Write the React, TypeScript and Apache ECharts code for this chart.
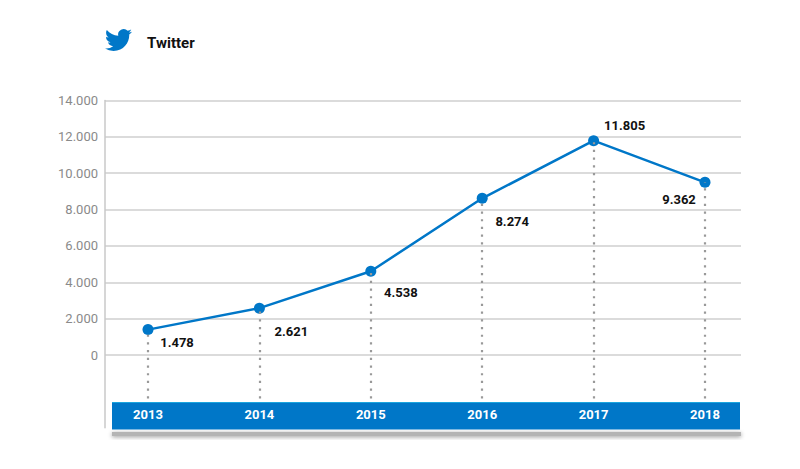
import React, { useEffect, useRef } from "react";
import * as echarts from "echarts";

const categories = ["2013", "2014", "2015", "2016", "2017", "2018"];
// Heights of the plotted markers
const pointValues = [1400, 2580, 4610, 8620, 11790, 9500];
// Numbers printed next to the markers
const valueLabels = ["1.478", "2.621", "4.538", "8.274", "11.805", "9.362"];
const labelOffsets = [[29, 12.5], [32, 23], [30, 21], [30, 23], [31, -15.5], [-26, 17]];

const dropEnd = -2387;
const BLUE = "#0077c8";
const BIRD =
  "M23.953 4.57a10 10 0 0 1-2.825.775a4.958 4.958 0 0 0 2.163-2.723c-.951.555-2.005.959-3.127 1.184a4.92 4.92 0 0 0-8.384 4.482C7.69 8.095 4.067 6.13 1.64 3.162a4.822 4.822 0 0 0-.666 2.475c0 1.71.87 3.213 2.188 4.096a4.904 4.904 0 0 1-2.228-.616v.06a4.923 4.923 0 0 0 3.946 4.827a4.996 4.996 0 0 1-2.212.085a4.936 4.936 0 0 0 4.604 3.417a9.867 9.867 0 0 1-6.102 2.105c-.39 0-.779-.023-1.17-.067a13.995 13.995 0 0 0 7.557 2.209c9.053 0 13.998-7.496 13.998-13.985c0-.21 0-.42-.015-.63A9.935 9.935 0 0 0 24 4.59z";

echarts.graphic.registerShape("bird", echarts.graphic.extendPath(BIRD, {}) as any);

const formatTick = (v: number) =>
  v < 0 ? "" : String(v).replace(/\B(?=(\d{3})+$)/g, ".");

export default function App() {
  const ref = useRef<HTMLDivElement>(null);
  useEffect(() => {
    const chart = echarts.init(ref.current!, undefined, { renderer: "svg" });
    const gridTop = 100.5;
    const gridBottom = 469 - 427.8;
    chart.setOption({
      animation: false,
      backgroundColor: "#fff",
      grid: [
        { left: 105, width: 636, top: gridTop, bottom: gridBottom },
        { left: 92.3, width: 668.4, top: gridTop, bottom: gridBottom },
      ],
      xAxis: [
        { type: "category", gridIndex: 0, data: categories, show: false },
        {
          type: "category",
          gridIndex: 1,
          data: categories,
          z: 5,
          axisLine: { show: false },
          axisTick: { show: false },
          axisLabel: {
            inside: true,
            margin: 7,
            color: "#fff",
            fontFamily: "Roboto",
            fontWeight: "bold",
            fontSize: 13,
          },
        },
      ],
      yAxis: [
        {
          type: "value",
          gridIndex: 0,
          min: -4000,
          max: 14000,
          interval: 2000,
          axisLine: { show: true, lineStyle: { color: "#c8c8c8", width: 1.5 } },
          axisTick: { show: false },
          axisLabel: {
            formatter: formatTick,
            color: "#8a8a8a",
            fontFamily: "Roboto",
            fontSize: 13,
            margin: 7,
          },
          splitLine: {
            show: true,
            lineStyle: {
              width: 1.5,
              color: ["transparent", "transparent", ...Array(8).fill("#cfcfcf")],
            },
          },
        },
        { type: "value", gridIndex: 1, min: -4000, max: 14000, interval: 2000, show: false },
      ],
      graphic: [
        { type: "bird", x: 105, y: 26.5, scaleX: 1.125, scaleY: 1.125, style: { fill: BLUE } },
        {
          type: "text",
          x: 147,
          y: 35,
          style: { text: "Twitter", fill: "#111", font: "bold 15px Roboto" },
        },
        {
          type: "rect",
          shape: { x: 112, y: 432, width: 629, height: 4 },
          style: { fill: "#b4b4b4", shadowBlur: 4, shadowColor: "rgba(0,0,0,0.4)", shadowOffsetY: 1 },
        },
        {
          type: "rect",
          shape: { x: 112, y: 402, width: 628, height: 27.5 },
          style: { fill: BLUE },
        },
        {
          type: "rect",
          shape: { x: 112, y: 402, width: 628, height: 1 },
          style: { fill: "#1aa5de" },
        },
      ],
      series: [
        {
          type: "line",
          xAxisIndex: 1,
          yAxisIndex: 1,
          data: pointValues.map((value, i) => ({
            value,
            label: {
              show: true,
              position: "inside",
              offset: labelOffsets[i],
              formatter: valueLabels[i],
              color: "#111",
              fontFamily: "Roboto",
              fontWeight: "bold",
              fontSize: 13,
            },
          })),
          symbol: "circle",
          symbolSize: 11,
          lineStyle: { color: BLUE, width: 2.5 },
          itemStyle: { color: BLUE, borderWidth: 0 },
          markLine: {
            silent: true,
            symbol: "none",
            label: { show: false },
            lineStyle: { color: "#999", width: 2.2, type: [2.2, 5.5] },
            data: categories.map((c, i) => [
              { coord: [c, dropEnd] },
              { coord: [c, pointValues[i]] },
            ]),
          },
        },
      ],
    });
    return () => chart.dispose();
  }, []);
  return (
    <div
      ref={ref}
      style={{ position: "absolute", left: 0, top: 0, width: 800, height: 469, background: "#fff" }}
    />
  );
}
